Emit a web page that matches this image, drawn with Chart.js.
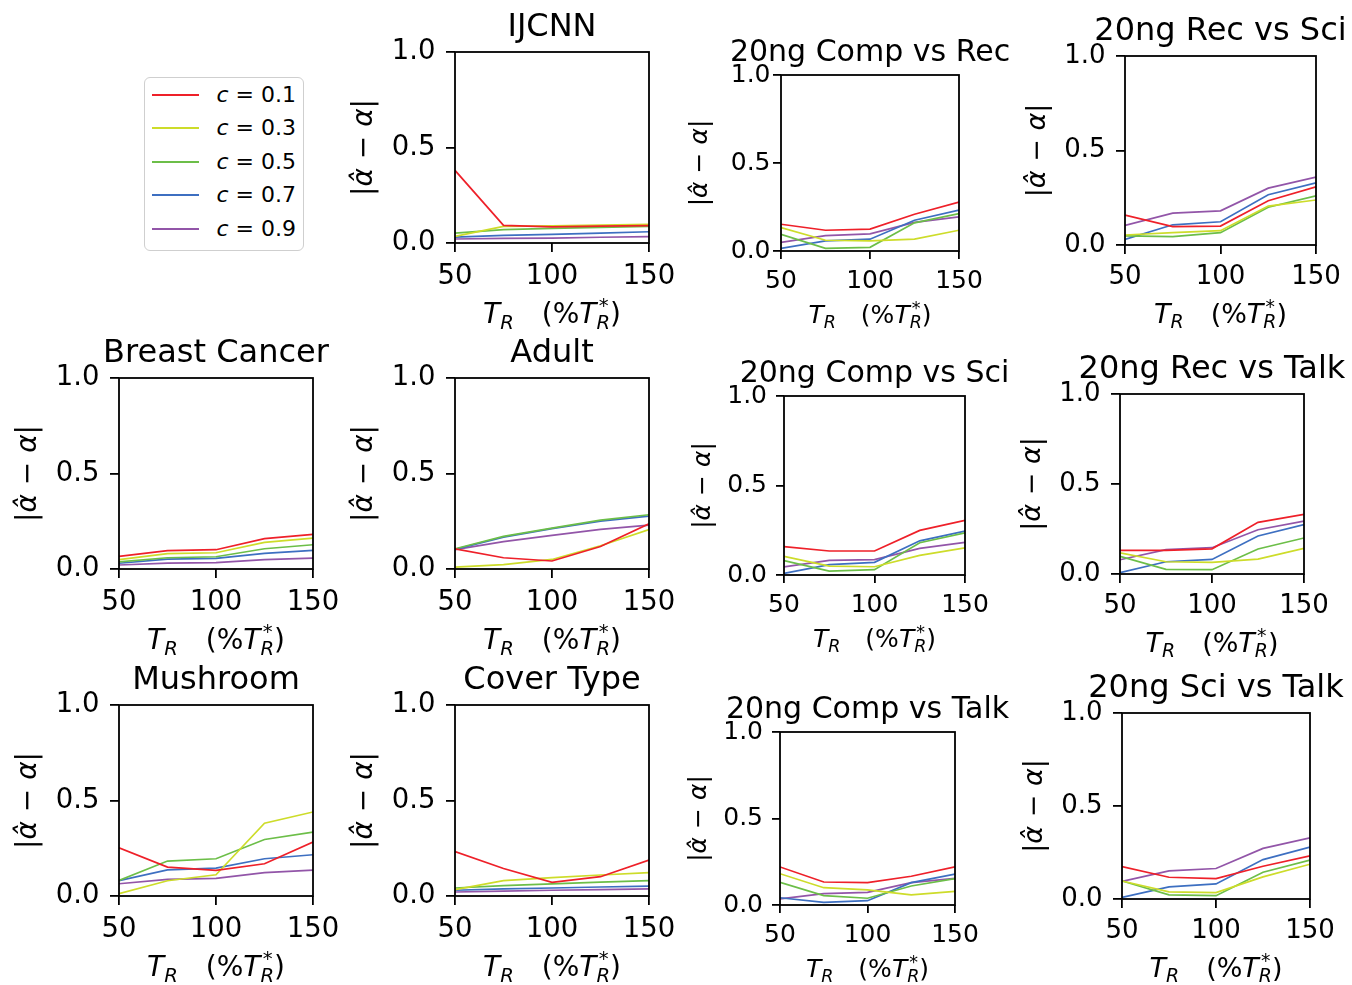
<!DOCTYPE html>
<html>
<head>
<meta charset="utf-8">
<script src="https://cdn.jsdelivr.net/npm/chart.js@4.4.0/dist/chart.umd.min.js"></script>
<style>
  html, body { margin: 0; padding: 0; background: #fff; }
  body { width: 1352px; height: 985px; position: relative; overflow: hidden; font-family: "DejaVu Sans", sans-serif; }
  canvas.panel { position: absolute; }
  #legend { position: absolute; left: 144px; top: 77px; width: 160px; height: 174px; box-sizing: border-box;
            border: 1.5px solid #cfcfcf; border-radius: 6px; background: #fff; }
  #legend .row { position: absolute; left: 0; height: 30px; width: 100%; }
  #legend .swatch { position: absolute; left: 6.5px; width: 47px; height: 2px; top: 14px; }
  #legend .lbl { position: absolute; left: 71.5px; top: 0; line-height: 30px; font-size: 22px; color: #000; white-space: nowrap; }
</style>
</head>
<body>
<div id="legend"></div>
<script>
// Training-set size, in percent of the reference T*_R
const xValues = [50, 75, 100, 125, 150];
// Class prior c for each curve
const cValues = [0.1, 0.3, 0.5, 0.7, 0.9];
const seriesColors = ['#ee2029', '#cddc2a', '#6cbe48', '#3d6fc1', '#9255a8'];

// |alpha_hat - alpha| per data set, one row per c value (0.1 ... 0.9)
const ijcnn = [
  [0.38, 0.092, 0.084, 0.088, 0.091],
  [0.035, 0.087, 0.090, 0.094, 0.097],
  [0.052, 0.070, 0.077, 0.082, 0.087],
  [0.031, 0.040, 0.045, 0.052, 0.059],
  [0.021, 0.024, 0.026, 0.030, 0.033]
];
const compVsRec = [
  [0.152, 0.118, 0.124, 0.209, 0.278],
  [0.133, 0.061, 0.057, 0.067, 0.118],
  [0.095, 0.015, 0.021, 0.160, 0.213],
  [0.015, 0.057, 0.067, 0.175, 0.232],
  [0.049, 0.087, 0.097, 0.163, 0.194]
];
const recVsSci = [
  [0.158, 0.097, 0.100, 0.234, 0.308],
  [0.053, 0.065, 0.076, 0.206, 0.238],
  [0.048, 0.044, 0.065, 0.200, 0.260],
  [0.030, 0.107, 0.123, 0.266, 0.329],
  [0.104, 0.169, 0.181, 0.301, 0.359]
];
const breastCancer = [
  [0.066, 0.096, 0.101, 0.159, 0.181],
  [0.049, 0.080, 0.085, 0.139, 0.162],
  [0.037, 0.059, 0.064, 0.106, 0.127],
  [0.030, 0.052, 0.056, 0.082, 0.098],
  [0.021, 0.031, 0.033, 0.049, 0.057]
];
const adult = [
  [0.105, 0.059, 0.042, 0.118, 0.237],
  [0.010, 0.023, 0.050, 0.122, 0.206],
  [0.106, 0.171, 0.214, 0.256, 0.284],
  [0.103, 0.167, 0.211, 0.251, 0.277],
  [0.101, 0.143, 0.176, 0.207, 0.230]
];
const compVsSci = [
  [0.158, 0.134, 0.134, 0.249, 0.305],
  [0.104, 0.050, 0.046, 0.110, 0.152],
  [0.080, 0.022, 0.030, 0.180, 0.236],
  [0.009, 0.058, 0.071, 0.191, 0.245],
  [0.045, 0.082, 0.086, 0.149, 0.182]
];
const recVsTalk = [
  [0.131, 0.131, 0.140, 0.287, 0.331],
  [0.118, 0.068, 0.065, 0.083, 0.142],
  [0.098, 0.026, 0.024, 0.139, 0.200],
  [0.007, 0.068, 0.081, 0.211, 0.274],
  [0.079, 0.135, 0.146, 0.246, 0.294]
];
const mushroom = [
  [0.252, 0.151, 0.134, 0.169, 0.283],
  [0.012, 0.080, 0.111, 0.381, 0.440],
  [0.082, 0.183, 0.195, 0.296, 0.334],
  [0.080, 0.137, 0.146, 0.195, 0.216],
  [0.064, 0.087, 0.092, 0.122, 0.136]
];
const coverType = [
  [0.233, 0.144, 0.071, 0.101, 0.188],
  [0.033, 0.080, 0.096, 0.110, 0.122],
  [0.042, 0.054, 0.064, 0.073, 0.080],
  [0.030, 0.037, 0.042, 0.047, 0.052],
  [0.021, 0.026, 0.030, 0.033, 0.037]
];
const compVsTalk = [
  [0.220, 0.133, 0.129, 0.166, 0.220],
  [0.181, 0.100, 0.087, 0.058, 0.079],
  [0.131, 0.054, 0.039, 0.110, 0.153],
  [0.042, 0.015, 0.025, 0.129, 0.178],
  [0.035, 0.066, 0.073, 0.129, 0.154]
];
const sciVsTalk = [
  [0.174, 0.117, 0.110, 0.176, 0.232],
  [0.097, 0.038, 0.034, 0.119, 0.187],
  [0.097, 0.022, 0.018, 0.144, 0.209],
  [0.009, 0.065, 0.081, 0.212, 0.279],
  [0.095, 0.151, 0.164, 0.272, 0.329]
];

const xTicks = [50, 100, 150];
const yTicks = [0, 0.5, 1];

// Text sizes and offsets for the three panel styles used on the page
const styles = {
  wide:   { title: 32, tick: 27.5, label: 28, titleGap: 16, xTickPad: 8,   yTickPad: 10.5, tickLen: 9, xLabelY: 80, yLabelX: 90 },
  narrow: { title: 30, tick: 25,   label: 25, titleGap: 14, xTickPad: 7,   yTickPad: 9,    tickLen: 8, xLabelY: 72, yLabelX: 81 },
  right:  { title: 32, tick: 26,   label: 27, titleGap: 16, xTickPad: 7.5, yTickPad: 10.5, tickLen: 9, xLabelY: 78, yLabelX: 87 }
};

// Plot-area boxes (left, top, right, bottom) for each panel on the page
const panels = [
  { title: 'IJCNN',             data: ijcnn,        box: [455, 52, 649, 243],   style: 'wide' },
  { title: '20ng Comp vs Rec',  data: compVsRec,    box: [781, 75, 959, 251],   style: 'narrow', yTickPad: 2.5 },
  { title: '20ng Rec vs Sci',   data: recVsSci,     box: [1125, 56, 1316, 245], style: 'right' },
  { title: 'Breast Cancer',     data: breastCancer, box: [119, 378, 313, 569],  style: 'wide' },
  { title: 'Adult',             data: adult,        box: [455, 378, 649, 569],  style: 'wide' },
  { title: '20ng Comp vs Sci',  data: compVsSci,    box: [784, 396, 965, 575],  style: 'narrow' },
  { title: '20ng Rec vs Talk',  data: recVsTalk,    box: [1120, 394, 1304, 574], style: 'right' },
  { title: 'Mushroom',          data: mushroom,     box: [119, 705, 313, 896],  style: 'wide' },
  { title: 'Cover Type',        data: coverType,    box: [455, 705, 649, 896],  style: 'wide' },
  { title: '20ng Comp vs Talk', data: compVsTalk,   box: [780, 732, 955, 905],  style: 'narrow' },
  { title: '20ng Sci vs Talk',  data: sciVsTalk,    box: [1122, 713, 1310, 899], style: 'right' }
];

const FONT = '"DejaVu Sans"';
const Y_W = 115, X_H = 100, PAD_T = 60, PAD_R = 60;

// Draw a run of text pieces (with sub/superscripts) centred on cx at the given baseline
function drawRuns(ctx, runs, cx, baseline) {
  let total = 0;
  runs.forEach(r => {
    ctx.font = (r.italic ? 'italic ' : '') + r.size + 'px ' + FONT;
    r.w = r.adv !== undefined ? r.adv : ctx.measureText(r.t).width;
    total += r.w;
  });
  let x = cx - total / 2;
  ctx.textAlign = 'left';
  ctx.textBaseline = 'alphabetic';
  runs.forEach(r => {
    if (r.t.trim() !== '') {
      ctx.font = (r.italic ? 'italic ' : '') + r.size + 'px ' + FONT;
      ctx.fillText(r.t, x + (r.dx || 0), baseline + (r.dy || 0));
    }
    x += r.w;
  });
}

// T_R  (%T*_R)
function xLabelRuns(s) {
  const sub = Math.round(s * 0.7 * 10) / 10;
  return [
    { t: 'T', size: s, italic: true },
    { t: 'R', size: sub, italic: true, dy: 0.2 * s },
    { t: ' ', size: s, adv: s },
    { t: '(%', size: s },
    { t: 'T', size: s, italic: true },
    { t: '*', size: sub, dy: -0.38 * s, adv: 0, dx: 0.08 * s },
    { t: 'R', size: sub, italic: true, dy: 0.2 * s },
    { t: ')', size: s }
  ];
}
// |α̂ − α|
function yLabelRuns(s) {
  return [
    { t: '|', size: s },
    { t: 'α\u0302', size: s, italic: true },
    { t: ' \u2212 ', size: s },
    { t: 'α', size: s, italic: true },
    { t: '|', size: s }
  ];
}

const panelDeco = {
  id: 'panelDeco',
  afterDraw(chart, args, opts) {
    const { ctx, chartArea: a } = chart;
    const st = opts.st;
    ctx.save();
    ctx.strokeStyle = '#000';
    ctx.lineWidth = 1.8;
    ctx.strokeRect(a.left, a.top, a.right - a.left, a.bottom - a.top);
    ctx.fillStyle = '#000';
    ctx.font = st.title + 'px ' + FONT;
    ctx.textAlign = 'center';
    ctx.textBaseline = 'alphabetic';
    ctx.fillText(opts.title, (a.left + a.right) / 2, a.top - st.titleGap);
    drawRuns(ctx, xLabelRuns(st.label), (a.left + a.right) / 2, a.bottom + st.xLabelY);
    ctx.translate(a.left - st.yLabelX, (a.top + a.bottom) / 2);
    ctx.rotate(-Math.PI / 2);
    drawRuns(ctx, yLabelRuns(st.label), 0, 0.26 * st.label);
    ctx.restore();
  }
};

panels.forEach(p => {
  const [L, T, R, B] = p.box;
  const st = styles[p.style];
  const cv = document.createElement('canvas');
  cv.className = 'panel';
  const w = (R - L) + Y_W + PAD_R;
  const h = (B - T) + PAD_T + X_H;
  cv.width = w; cv.height = h;
  cv.style.left = (L - Y_W) + 'px';
  cv.style.top = (T - PAD_T) + 'px';
  cv.style.width = w + 'px';
  cv.style.height = h + 'px';
  document.body.appendChild(cv);

  const gridOpts = { display: true, drawOnChartArea: false, drawTicks: true, tickLength: st.tickLen, color: '#000', lineWidth: 1.8 };

  new Chart(cv, {
    type: 'line',
    data: {
      datasets: p.data.map((vals, i) => ({
        label: 'c = ' + cValues[i].toFixed(1),
        data: xValues.map((x, j) => ({ x: x, y: vals[j] })),
        borderColor: seriesColors[i],
        borderWidth: 1.7,
        pointRadius: 0,
        fill: false,
        tension: 0
      }))
    },
    options: {
      responsive: false,
      animation: false,
      devicePixelRatio: 1,
      layout: { padding: { top: PAD_T, right: PAD_R, left: 0, bottom: 0 } },
      plugins: { legend: { display: false }, tooltip: { enabled: false }, panelDeco: { title: p.title, st: st } },
      scales: {
        x: {
          type: 'linear', min: 50, max: 150,
          afterBuildTicks: s => { s.ticks = xTicks.map(v => ({ value: v })); },
          afterFit: s => { s.height = X_H; },
          ticks: { color: '#000', font: { family: FONT, size: st.tick }, padding: st.xTickPad, maxRotation: 0, autoSkip: false,
                   callback: v => String(v) },
          grid: gridOpts,
          border: { display: false }
        },
        y: {
          type: 'linear', min: 0, max: 1,
          afterBuildTicks: s => { s.ticks = yTicks.map(v => ({ value: v })); },
          afterFit: s => { s.width = Y_W; },
          ticks: { color: '#000', font: { family: FONT, size: st.tick },
                   padding: p.yTickPad !== undefined ? p.yTickPad : st.yTickPad, autoSkip: false,
                   callback: v => Number(v).toFixed(1) },
          grid: gridOpts,
          border: { display: false }
        }
      }
    },
    plugins: [panelDeco]
  });
});

// Legend built from the same series definitions
const legend = document.getElementById('legend');
cValues.forEach((c, i) => {
  const row = document.createElement('div');
  row.className = 'row';
  row.style.top = (18 + i * 33.6 - 15 - 1.5) + 'px';
  const sw = document.createElement('div');
  sw.className = 'swatch';
  sw.style.background = seriesColors[i];
  const lbl = document.createElement('div');
  lbl.className = 'lbl';
  lbl.innerHTML = '<i>c</i> = ' + c.toFixed(1);
  row.appendChild(sw); row.appendChild(lbl);
  legend.appendChild(row);
});
</script>
</body>
</html>
